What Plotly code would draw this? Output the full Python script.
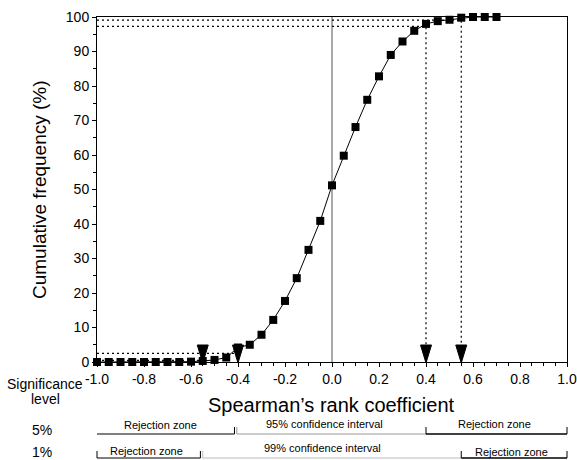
import plotly.graph_objects as go

# ---------------- data ----------------
rank_coef = [-1.00, -0.95, -0.90, -0.85, -0.80, -0.75, -0.70, -0.65, -0.60,
             -0.55, -0.50, -0.45, -0.40, -0.35, -0.30, -0.25, -0.20, -0.15,
             -0.10, -0.05, 0.00, 0.05, 0.10, 0.15, 0.20, 0.25, 0.30, 0.35,
             0.40, 0.45, 0.50, 0.55, 0.60, 0.65, 0.70]
cum_freq = [0.0, 0.0, 0.0, 0.0, 0.0, 0.0, 0.0, 0.0, 0.1,
            0.3, 0.6, 1.3, 4.2, 5.0, 7.9, 12.2, 17.7, 24.3,
            32.5, 40.9, 51.2, 59.8, 68.1, 76.0, 82.8, 89.0, 92.9, 96.0,
            98.0, 98.8, 99.2, 99.8, 100.0, 100.0, 100.0]

crit_5 = 0.40          # 5 % critical value
crit_1 = 0.55          # 1 % critical value
upper_5_level = 97.3   # 97.5 % line as drawn
upper_1_level = 99.1   # 99.5 % line as drawn
lower_5_level = 2.5
lower_1_level = 0.5
arrow_top = 5.0

x_tick_vals = [-1.0, -0.8, -0.6, -0.4, -0.2, 0.0, 0.2, 0.4, 0.6, 0.8, 1.0]
x_tick_text = ["-1.0", "-0.8", "-0.6", "-0.4", "-0.2", "0.0", "0.2", "0.4", "0.6", "0.8", "1.0"]
y_tick_vals = [0, 10, 20, 30, 40, 50, 60, 70, 80, 90, 100]
y_tick_text = [str(v) for v in y_tick_vals]

# ---------------- geometry helpers (layout) ----------------
W, H = 577, 460
ML, MR, MT, MB = 97, 10, 17, 98
PW, PH = W - ML - MR, H - MT - MB
X_RANGE = [-1.0, 1.0]


def xp(x):
    """data x -> paper x"""
    return (x - X_RANGE[0]) / (X_RANGE[1] - X_RANGE[0])


def pxx(px):
    return (px - ML) / PW


def pxy(py):
    return (MT + PH - py) / PH


FONT = "Liberation Sans, Arial, Helvetica, sans-serif"

fig = go.Figure()

# dotted guide lines
fig.add_trace(go.Scatter(
    x=[X_RANGE[0], crit_5, crit_5, None, X_RANGE[0], crit_1, crit_1, None,
       X_RANGE[0], -crit_5, None, X_RANGE[0], -crit_1],
    y=[upper_5_level, upper_5_level, arrow_top, None, upper_1_level, upper_1_level, arrow_top, None,
       lower_5_level, lower_5_level, None, lower_1_level, lower_1_level],
    mode="lines", line=dict(color="black", width=1.2, dash="2px,3px"),
    hoverinfo="skip", showlegend=False, cliponaxis=False))

# main cumulative curve
fig.add_trace(go.Scatter(
    x=rank_coef, y=cum_freq, mode="lines+markers",
    line=dict(color="black", width=1),
    marker=dict(symbol="square", size=8, color="black"),
    showlegend=False, cliponaxis=False))

shapes = []
# zero line
shapes.append(dict(type="line", xref="x", yref="y", x0=0, x1=0, y0=0, y1=100,
                   line=dict(color="#555", width=1), layer="below"))
# arrow heads
for cx in [-crit_1, -crit_5, crit_5, crit_1]:
    shapes.append(dict(type="path", xref="x", yref="y", xsizemode="pixel", ysizemode="pixel",
                       xanchor=cx, yanchor=0, path="M-5.5,17 L5.5,17 L0,-1 Z",
                       fillcolor="black", line=dict(color="black", width=1)))

# significance-zone bars
row5_y = pxy(434)
row1_y = pxy(458)
tick_h = 7 / PH


def zone(x0, x1, y, color="black", w=1, left_tick=True, right_tick=True):
    shapes.append(dict(type="line", xref="paper", yref="paper", x0=xp(x0), x1=xp(x1), y0=y, y1=y,
                       line=dict(color=color, width=w)))
    if left_tick:
        shapes.append(dict(type="line", xref="paper", yref="paper", x0=xp(x0), x1=xp(x0),
                           y0=y, y1=y + tick_h, line=dict(color=color, width=1)))
    if right_tick:
        shapes.append(dict(type="line", xref="paper", yref="paper", x0=xp(x1), x1=xp(x1),
                           y0=y, y1=y + tick_h, line=dict(color=color, width=1)))


zone(X_RANGE[0], -crit_5 - 0.015, row5_y, left_tick=False)
zone(-crit_5 - 0.005, crit_5, row5_y, color="#999", left_tick=True, right_tick=False)
zone(crit_5, X_RANGE[1], row5_y, w=1.3)
zone(X_RANGE[0], -crit_1 - 0.01, row1_y)
zone(-crit_1, crit_1, row1_y, color="#bbb", left_tick=True, right_tick=False)
zone(crit_1, X_RANGE[1], row1_y, w=1.3)

ann = []


def text(s, x, y, size, **kw):
    d = dict(text=s, x=x, y=y, xref="paper", yref="paper", showarrow=False,
             font=dict(family=FONT, size=size, color="black"), xanchor="center", yanchor="middle")
    d.update(kw)
    ann.append(d)


text("Cumulative frequency (%)", pxx(40), pxy(190), 19, textangle=-90)
text("Spearman\u2019s rank coefficient", pxx(331), pxy(405), 20)
text("Significance", pxx(45), pxy(384), 14)
text("level", pxx(45), pxy(399), 14)
text("5%", pxx(42), pxy(430), 14)
text("1%", pxx(42), pxy(452), 14)

text("Rejection zone", pxx(160), pxy(425), 11)
text("95% confidence interval", pxx(324), pxy(424), 11)
text("Rejection zone", pxx(494), pxy(424), 11)
text("Rejection zone", pxx(146), pxy(451), 11)
text("99% confidence interval", pxx(322), pxy(448), 11)
text("Rejection zone", pxx(511), pxy(452), 11)

fig.update_layout(
    width=W, height=H,
    margin=dict(l=ML, r=MR, t=MT, b=MB, pad=0, autoexpand=False),
    paper_bgcolor="white", plot_bgcolor="white",
    font=dict(family=FONT, size=14, color="black"),
    shapes=shapes, annotations=ann,
    xaxis=dict(range=X_RANGE, showgrid=False, zeroline=False, showline=True,
               linecolor="black", linewidth=1, mirror=True, automargin=False,
               ticks="outside", ticklen=4, tickcolor="black",
               tickvals=x_tick_vals, ticktext=x_tick_text,
               minor=dict(dtick=0.05, tick0=0, ticks="outside", ticklen=3, tickcolor="black"),
               tickfont=dict(size=14)),
    yaxis=dict(range=[0, 100], showgrid=False, zeroline=False, showline=True,
               linecolor="black", linewidth=1, mirror=True, automargin=False,
               ticks="outside", ticklen=4, tickcolor="black",
               tickvals=y_tick_vals, ticktext=y_tick_text,
               minor=dict(dtick=5, tick0=0, ticks="outside", ticklen=3, tickcolor="black"),
               tickfont=dict(size=14)),
)

fig.write_html("out.html", config={"displayModeBar": False},
               post_script="document.body.style.margin='0';document.body.style.overflow='hidden';")
